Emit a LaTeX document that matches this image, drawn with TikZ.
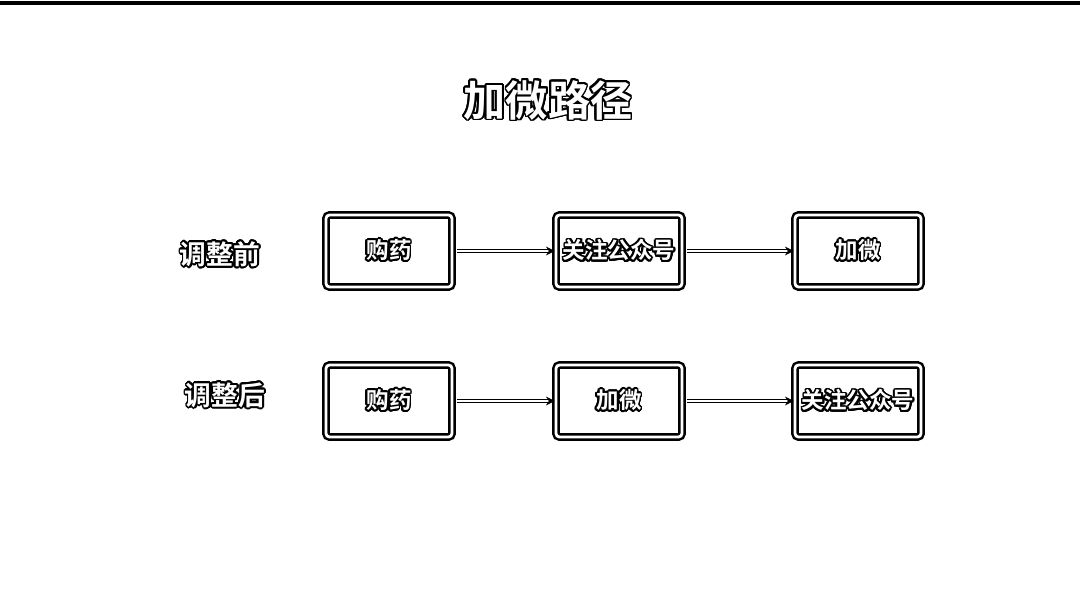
\documentclass[tikz,border=0pt]{standalone}
\usepackage{fontspec}
\setmainfont{Noto Sans CJK SC Bold}
\usepackage{contour}
\contourlength{0.5pt}
\contournumber{24}
\usetikzlibrary{arrows.meta}
\newcommand{\outl}[1]{\contour{black}{#1}}
\tikzset{
  stage/.style={draw=black, double=white, line width=0.7pt, double distance=0.8pt,
    rounded corners=1pt, minimum width=1.26cm, minimum height=0.72cm, inner xsep=0pt,
    text=white, font=\fontsize{6.4}{7}\selectfont},
  flow/.style={draw=black, double=white, line width=0.35pt, double distance=0.6pt,
    shorten <=1pt, -{Stealth[length=2.5pt,width=2.5pt]}},
  rowlabel/.style={text=white, font=\fontsize{7.6}{8}\selectfont}
}
\begin{document}
\begin{tikzpicture}
  \useasboundingbox (0,0) rectangle (10.8,6.08);

  % Top rule
  \draw[line width=0.9pt] (0,6.05) -- (10.8,6.05);

  % Title
  \node[text=white, font=\fontsize{12}{13}\selectfont] (title) at (5.48,5.07) {\outl{加微路径}};

  % Row labels
  \node[rowlabel] (before) at (2.20,3.53) {\outl{调整前}};
  \node[rowlabel] (after) at (2.25,2.12) {\outl{调整后}};

  % Draw boxes, first row
  \node[stage] (buy1) at (3.89,3.57) {\outl{购药}};
  \node[stage] (follow1) at (6.19,3.57) {\outl{关注公众号}};
  \node[stage] (add1) at (8.58,3.57) {\outl{加微}};

  % Draw boxes, second row
  \node[stage] (buy2) at (3.89,2.07) {\outl{购药}};
  \node[stage] (add2) at (6.19,2.07) {\outl{加微}};
  \node[stage] (follow2) at (8.58,2.07) {\outl{关注公众号}};

  % Connect boxes
  \draw[flow] (buy1) -- (follow1);
  \draw[flow] (follow1) -- (add1);
  \draw[flow] (buy2) -- (add2);
  \draw[flow] (add2) -- (follow2);
\end{tikzpicture}
\end{document}
